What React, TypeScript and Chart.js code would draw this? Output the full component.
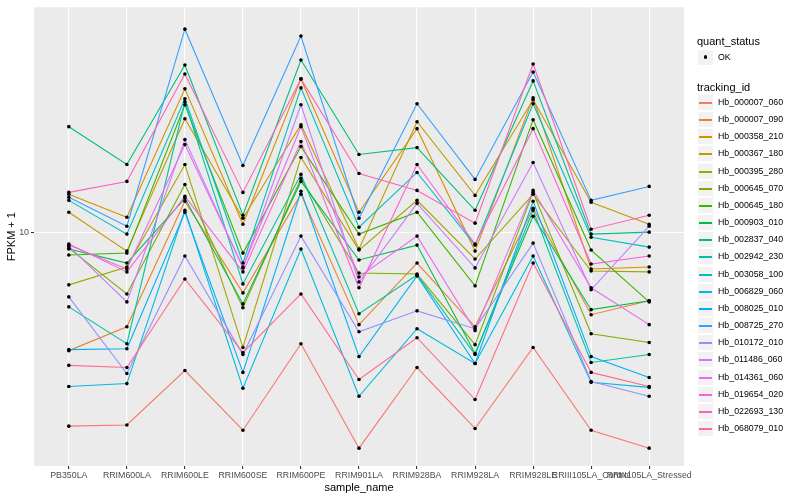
import React, { useEffect, useRef } from 'react';
import { Chart, registerables } from 'chart.js';

Chart.register(...registerables);

const categories = [
  'PB350LA', 'RRIM600LA', 'RRIM600LE', 'RRIM600SE', 'RRIM600PE', 'RRIM901LA',
  'RRIM928BA', 'RRIM928LA', 'RRIM928LE', 'RRIII105LA_Control', 'RRIII105LA_Stressed',
];

const seriesNames = [
  'Hb_000007_060', 'Hb_000007_090', 'Hb_000358_210', 'Hb_000367_180', 'Hb_000395_280',
  'Hb_000645_070', 'Hb_000645_180', 'Hb_000903_010', 'Hb_002837_040', 'Hb_002942_230',
  'Hb_003058_100', 'Hb_006829_060', 'Hb_008025_010', 'Hb_008725_270', 'Hb_010172_010',
  'Hb_011486_060', 'Hb_014361_060', 'Hb_019654_020', 'Hb_022693_130', 'Hb_068079_010',
];

const seriesColors = [
  '#F8766D', '#EA8331', '#D89000', '#C09B00', '#A3A500',
  '#7CAE00', '#39B600', '#00BB4E', '#00BF7D', '#00C1A3',
  '#00BFC4', '#00BAE0', '#00B0F6', '#35A2FF', '#9590FF',
  '#C77CFF', '#E76BF3', '#FA62DB', '#FF62BC', '#FF6C91',
];

const s01 = [2.24, 2.26, 3.44, 2.17, 4.23, 1.89, 3.52, 2.2, 4.11, 2.17, 1.89];
const s02 = [4.01, 4.82, 12.69, 6.26, 13.39, 4.9, 7.88, 4.82, 12.02, 5.29, 5.89];
const s03 = [13.39, 11.22, 30.2, 10.63, 32.61, 11.66, 22.22, 8.64, 28.18, 7.53, 7.64];
const s04 = [11.66, 8.64, 23.99, 11.13, 22.91, 8.78, 23.44, 13.28, 27.76, 12.59, 10.63];
const s05 = [6.66, 7.64, 16.85, 4.11, 17.78, 8.71, 12.78, 8.13, 13.39, 7.41, 7.36];
const s06 = [8.84, 6.21, 14.45, 5.58, 15.14, 7.3, 7.24, 4.2, 13.59, 4.57, 4.27];
const s07 = [8.38, 8.51, 26.71, 8.51, 19.35, 9.85, 11.66, 6.61, 23.81, 8.71, 5.84];
const s08 = [8.78, 7.88, 12.98, 5.75, 14.79, 8.07, 9.05, 3.92, 11.31, 5.5, 5.89];
const s09 = [22.56, 16.85, 36.31, 11.39, 37.73, 18.2, 19.2, 11.84, 32.11, 9.85, 10.0];
const s10 = [5.62, 4.23, 27.33, 6.71, 15.61, 5.33, 7.19, 3.89, 11.84, 3.66, 3.89];
const s11 = [12.78, 9.85, 27.97, 7.88, 30.43, 10.39, 15.85, 9.05, 26.92, 9.62, 8.91];
const s12 = [3.04, 3.11, 11.84, 3.0, 8.78, 2.82, 4.75, 3.63, 8.32, 3.14, 3.02];
const s13 = [4.04, 4.07, 11.66, 3.39, 13.7, 3.83, 7.13, 3.63, 12.69, 3.83, 3.26];
const s14 = [13.08, 10.47, 47.86, 16.72, 45.36, 11.13, 26.92, 15.02, 34.41, 12.78, 14.23];
const s15 = [6.07, 3.36, 8.32, 3.89, 9.7, 4.64, 5.45, 4.75, 9.19, 3.16, 2.82];
const s16 = [8.98, 5.84, 20.42, 7.59, 26.71, 6.81, 12.49, 7.59, 17.11, 6.41, 10.47];
const s17 = [9.05, 7.53, 19.65, 7.64, 22.56, 7.08, 9.7, 4.68, 13.8, 6.51, 4.9];
const s18 = [9.12, 7.36, 13.18, 7.36, 20.11, 6.51, 16.85, 9.12, 22.22, 7.82, 8.32];
const s19 = [13.59, 14.79, 33.88, 13.59, 32.61, 15.73, 13.8, 10.72, 36.59, 10.23, 11.39];
const s20 = [3.58, 3.52, 6.97, 3.95, 6.21, 3.21, 4.43, 2.75, 7.88, 3.39, 3.04];

const seriesValues = [s01, s02, s03, s04, s05, s06, s07, s08, s09, s10, s11, s12, s13, s14, s15, s16, s17, s18, s19, s20];

const yTicks = [10];
const yMin = 1.647;
const yMax = 56.66;
const statusLabels = ['OK'];

const FONT = "'Liberation Sans', Arial, Helvetica, sans-serif";

const panelPlugin = {
  id: 'panelBg',
  beforeDraw(chart: any) {
    const { ctx, chartArea } = chart;
    ctx.save();
    ctx.fillStyle = '#EBEBEB';
    ctx.fillRect(chartArea.left, chartArea.top, chartArea.right - chartArea.left, chartArea.bottom - chartArea.top);
    ctx.restore();
  },
};

const pointsPlugin = {
  id: 'blackPoints',
  afterDatasetsDraw(chart: any) {
    const ctx = chart.ctx;
    ctx.save();
    ctx.fillStyle = '#000000';
    chart.data.datasets.forEach((_d: any, i: number) => {
      const meta = chart.getDatasetMeta(i);
      meta.data.forEach((el: any) => {
        ctx.beginPath();
        ctx.arc(el.x, el.y, 1.8, 0, Math.PI * 2);
        ctx.fill();
      });
    });
    ctx.restore();
  },
};

export default function App() {
  const canvasRef = useRef<HTMLCanvasElement | null>(null);

  useEffect(() => {
    if (!canvasRef.current) return;
    const datasets = seriesValues.map((vals, i) => ({
      label: seriesNames[i],
      data: vals.map((v, j) => ({ x: j, y: v })),
      borderColor: seriesColors[i],
      backgroundColor: seriesColors[i],
      borderWidth: 1.1,
      pointRadius: 0,
      pointHoverRadius: 0,
      tension: 0,
      fill: false,
      order: seriesValues.length - i,
    }));
    const chart = new Chart(canvasRef.current, {
      type: 'line',
      data: { datasets },
      plugins: [panelPlugin, pointsPlugin],
      options: {
        animation: false,
        responsive: false,
        devicePixelRatio: 1,
        layout: { padding: { left: 0, right: 116, top: 5, bottom: 0 } },
        plugins: { legend: { display: false }, tooltip: { enabled: false } },
        scales: {
          x: {
            type: 'linear',
            min: -0.6,
            max: 10.6,
            afterBuildTicks: (s: any) => {
              s.ticks = categories.map((_c, i) => ({ value: i }));
            },
            afterFit: (s: any) => {
              s.height = 34;
            },
            grid: { color: '#FFFFFF', lineWidth: 1.1, tickColor: '#333333', tickLength: 3 },
            border: { display: false },
            ticks: {
              color: '#4D4D4D',
              font: { family: FONT, size: 8.8 },
              autoSkip: false,
              maxRotation: 0,
              minRotation: 0,
              padding: 1,
              callback: (v: any) => categories[Number(v)] ?? '',
            },
            title: {
              display: true,
              text: 'sample_name',
              color: '#000000',
              font: { family: FONT, size: 11 },
              padding: { top: 0, bottom: 5 },
            },
          },
          y: {
            type: 'logarithmic',
            min: yMin,
            max: yMax,
            afterBuildTicks: (s: any) => {
              s.ticks = yTicks.map((v) => ({ value: v }));
            },
            afterFit: (s: any) => {
              s.width = 34;
            },
            grid: { color: '#FFFFFF', lineWidth: 1.1, tickColor: '#333333', tickLength: 3 },
            border: { display: false },
            ticks: {
              color: '#4D4D4D',
              font: { family: FONT, size: 8.8 },
              padding: 2,
              callback: (v: any) => String(v),
            },
            title: {
              display: true,
              text: 'FPKM + 1',
              color: '#000000',
              font: { family: FONT, size: 11 },
              padding: { top: 5, bottom: 0 },
            },
          },
        },
      },
    } as any);
    return () => chart.destroy();
  }, []);

  const legendLeft = 697;
  const itemTop = 102;
  const itemStep = 17.16;

  return (
    <div style={{ position: 'fixed', left: 0, top: 0, width: 800, height: 500, background: '#FFFFFF', fontFamily: FONT }}>
      <canvas ref={canvasRef} width={800} height={500} style={{ width: 800, height: 500, display: 'block' }} />
      <div style={{ position: 'absolute', left: legendLeft, top: 34, fontSize: 11, lineHeight: '14px', color: '#000', whiteSpace: 'nowrap' }}>quant_status</div>
      {statusLabels.map((lab, i) => (
        <React.Fragment key={lab}>
          <div style={{ position: 'absolute', left: legendLeft, top: 48.5 + i * itemStep, width: 17, height: 17, boxSizing: 'border-box', background: '#F2F2F2', border: '1px solid #FFFFFF' }}>
            <div style={{ position: 'absolute', left: 5.5, top: 5.5, width: 3.6, height: 3.6, borderRadius: '50%', background: '#000' }} />
          </div>
          <div style={{ position: 'absolute', left: legendLeft + 21, top: 51 + i * itemStep, fontSize: 8.8, lineHeight: '12px', color: '#000', whiteSpace: 'nowrap' }}>{lab}</div>
        </React.Fragment>
      ))}
      <div style={{ position: 'absolute', left: legendLeft, top: 80, fontSize: 11, lineHeight: '14px', color: '#000', whiteSpace: 'nowrap' }}>tracking_id</div>
      {seriesNames.map((name, i) => {
        const cy = Math.round(itemTop + i * itemStep);
        return (
          <React.Fragment key={name}>
            <div style={{ position: 'absolute', left: legendLeft, top: cy - 8, width: 17, height: 17, boxSizing: 'border-box', background: '#F2F2F2', border: '1px solid #FFFFFF' }}>
              <div style={{ position: 'absolute', left: 1, right: 1, top: 7, height: 2, background: seriesColors[i] }} />
            </div>
            <div style={{ position: 'absolute', left: legendLeft + 21, top: cy - 6, fontSize: 8.8, lineHeight: '12px', color: '#000', whiteSpace: 'nowrap' }}>{name}</div>
          </React.Fragment>
        );
      })}
    </div>
  );
}
